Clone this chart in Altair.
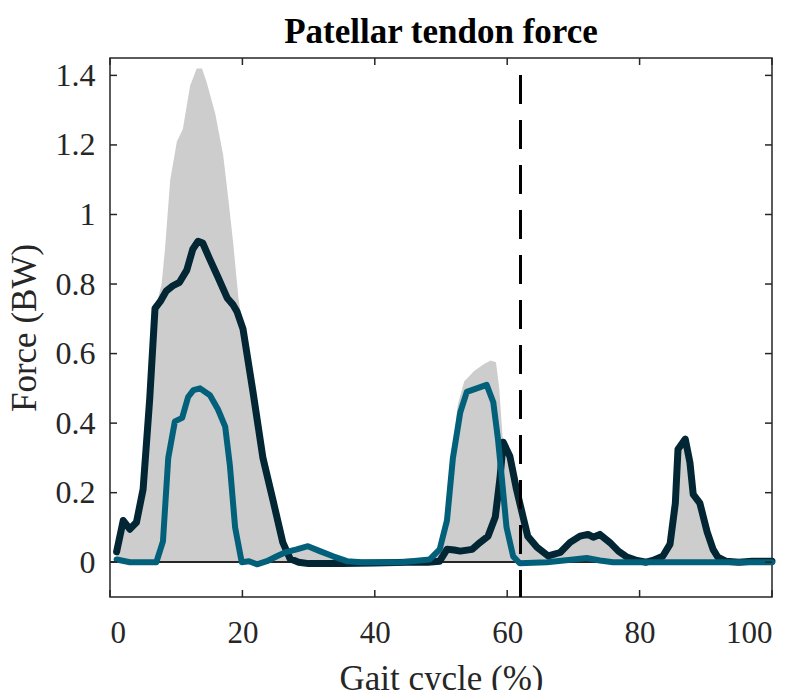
import altair as alt
import pandas as pd

# ---- data ----
grey_x = [1, 2, 3, 4, 5, 6, 7, 7.8, 8.3, 9.1, 10.1, 11, 12.1, 13.1, 13.9, 14.6, 15.9, 17.1, 17.9,
          18.6, 19.4, 20.1, 21.6, 23.1, 24.6, 26.1, 27.2, 28.2, 30, 32, 34, 36, 38, 48, 49, 50.3,
          51, 51.8, 52.5, 53.5, 55, 56.5, 57.5, 58.3, 58.8, 59.3, 60.4, 61.4, 62.4, 63.1, 64.5,
          66.2, 68, 70, 72, 73, 74, 75.5, 76.8, 78.1, 79.6, 83.5, 84.6, 85.4, 85.8, 86.9, 87.6,
          88.1, 89.1, 90.2, 91.1, 91.8, 93, 100]
grey_hi = [0.03, 0.12, 0.10, 0.12, 0.22, 0.47, 0.74, 0.80, 0.90, 1.10, 1.21, 1.245, 1.37, 1.42,
           1.42, 1.38, 1.29, 1.17, 1.04, 0.92, 0.76, 0.67, 0.49, 0.30, 0.18, 0.06, 0.03, 0.04,
           0.05, 0.035, 0.018, 0.005, 0.0, 0.0, 0.02, 0.07, 0.15, 0.32, 0.45, 0.52, 0.55, 0.57,
           0.58, 0.575, 0.50, 0.36, 0.31, 0.21, 0.13, 0.075, 0.043, 0.02, 0.03, 0.066, 0.08,
           0.075, 0.08, 0.057, 0.032, 0.015, 0.005, 0.017, 0.052, 0.17, 0.325, 0.355, 0.29, 0.2,
           0.17, 0.087, 0.037, 0.015, 0.0, 0.0]

dark_x = [1, 2, 3, 4, 5, 6, 6.8, 7.6, 8.5, 9.5, 10.5, 11.6, 12.5, 13.3, 14, 15.1, 16.3, 17.7,
          18.6, 19.2, 20.1, 21.6, 23.1, 24.6, 26.1, 27.2, 28.5, 30, 35, 40, 45, 48, 49.8, 50.9,
          52, 52.9, 54.7, 55.9, 57.1, 58.2, 58.9, 59.4, 60.4, 61.4, 62.4, 63.1, 64.5, 66.2, 68,
          69.5, 71, 72.2, 73, 74, 75.5, 76.8, 78.1, 79.6, 81, 82, 83.5, 84.6, 85.4, 85.8, 86.9,
          87.6, 88.1, 89.1, 90.2, 91.1, 91.8, 93, 95, 97, 100]
dark_y = [0.03, 0.12, 0.095, 0.115, 0.21, 0.47, 0.73, 0.75, 0.78, 0.795, 0.805, 0.84, 0.90,
          0.923, 0.918, 0.87, 0.82, 0.76, 0.74, 0.72, 0.67, 0.49, 0.30, 0.18, 0.057, 0.01, 0.0,
          -0.004, -0.004, -0.002, 0.0, 0.0, 0.003, 0.037, 0.035, 0.032, 0.037, 0.057, 0.075,
          0.13, 0.24, 0.345, 0.305, 0.21, 0.13, 0.075, 0.043, 0.018, 0.028, 0.057, 0.075, 0.08,
          0.072, 0.08, 0.057, 0.032, 0.015, 0.005, 0.0, 0.005, 0.017, 0.052, 0.17, 0.325, 0.354,
          0.287, 0.195, 0.17, 0.087, 0.037, 0.015, 0.003, 0.0, 0.003, 0.003]

teal_x = [1, 3, 5, 7, 8, 8.8, 9.8, 10.9, 11.8, 12.6, 13.6, 15.1, 16.3, 17.4, 18.1, 18.9, 19.9,
          21, 22.2, 23.7, 25.2, 26.7, 28.2, 29.9, 31.7, 33.7, 35.8, 38, 44, 48.3, 49.8, 50.9,
          51.8, 52.9, 53.9, 55.4, 56.9, 57.9, 58.6, 59.2, 59.9, 60.9, 61.9, 66, 70, 72, 74, 76,
          100]
teal_y = [0.008, 0.0, 0.0, 0.0, 0.06, 0.30, 0.405, 0.415, 0.475, 0.495, 0.50, 0.48, 0.44, 0.39,
          0.28, 0.10, 0.0, 0.003, -0.006, 0.003, 0.017, 0.03, 0.037, 0.046, 0.032, 0.017, 0.003,
          0.0, 0.0, 0.008, 0.037, 0.12, 0.30, 0.43, 0.49, 0.50, 0.51, 0.46, 0.355, 0.24, 0.10,
          0.017, -0.003, 0.0, 0.008, 0.012, 0.005, 0.0, 0.0]

x_ticks = [0, 20, 40, 60, 80, 100]
y_ticks = [0, 0.2, 0.4, 0.6, 0.8, 1, 1.2, 1.4]
stance_end = 62
x_domain = [0, 100]
y_domain = [-0.1, 1.45]
title_text = ["Patellar tendon force"]

# ---- styling ----
W, H = 662, 539
FONT = "Liberation Serif"
INK = "#262626"
GREY = "#cdcdcd"
DARK = "#022633"
TEAL = "#02607a"
TICK = 7

grey_df = pd.DataFrame({"x": grey_x, "hi": grey_hi})
dark_df = pd.DataFrame({"x": dark_x, "y": dark_y})
teal_df = pd.DataFrame({"x": teal_x, "y": teal_y})
xt_df = pd.DataFrame({"v": x_ticks})
yt_df = pd.DataFrame({"v": y_ticks})
title_df = pd.DataFrame({"t": title_text})

xs = alt.Scale(domain=x_domain, nice=False, zero=False)
ys = alt.Scale(domain=y_domain, nice=False, zero=False)

x_axis = alt.Axis(values=x_ticks, format="d", title="Gait cycle (%)", grid=False, ticks=False,
                  tickSize=0, domain=False, labelFont=FONT, labelFontSize=31, labelColor=INK,
                  labelPadding=21, titleFont=FONT, titleFontSize=35, titleFontWeight="normal",
                  titleColor=INK, titleBaseline="alphabetic", titleAlign="center",
                  titleX=W / 2, titleY=92)
y_axis = alt.Axis(values=y_ticks, format="~g", title="Force (BW)", grid=False, ticks=False,
                  tickSize=0, domain=False, labelFont=FONT, labelFontSize=32, labelColor=INK,
                  labelPadding=15, labelBaseline="middle", titleFont=FONT, titleFontSize=35,
                  titleFontWeight="normal", titleColor=INK, titleBaseline="alphabetic",
                  titleAlign="center", titleAngle=270, titleX=-75, titleY=H / 2)

band = alt.Chart(grey_df).mark_area(color=GREY, opacity=1).encode(
    x=alt.X("x:Q", scale=xs, axis=x_axis),
    y=alt.Y("hi:Q", scale=ys, axis=y_axis),
    y2=alt.datum(0),
)

zero = alt.Chart(grey_df).mark_rule(color=INK, strokeWidth=1.5).encode(y=alt.datum(0))

dark = alt.Chart(dark_df).mark_line(color=DARK, strokeWidth=7, strokeJoin="round",
                                    strokeCap="round").encode(x="x:Q", y="y:Q")
teal = alt.Chart(teal_df).mark_line(color=TEAL, strokeWidth=6, strokeJoin="round",
                                    strokeCap="round").encode(x="x:Q", y="y:Q")

dash = alt.Chart(grey_df).mark_rule(color="black", strokeWidth=2.8, strokeDash=[28, 17]).encode(
    x=alt.datum(stance_end), y=alt.datum(1.4), y2=alt.datum(-0.1))

tick_bottom = alt.Chart(xt_df).mark_rule(color=INK, strokeWidth=1.5).encode(
    x="v:Q", y=alt.value(H), y2=alt.value(H - TICK))
tick_top = alt.Chart(xt_df).mark_rule(color=INK, strokeWidth=1.5).encode(
    x="v:Q", y=alt.value(0), y2=alt.value(TICK))
tick_left = alt.Chart(yt_df).mark_rule(color=INK, strokeWidth=1.5).encode(
    y="v:Q", x=alt.value(0), x2=alt.value(TICK))
tick_right = alt.Chart(yt_df).mark_rule(color=INK, strokeWidth=1.5).encode(
    y="v:Q", x=alt.value(W), x2=alt.value(W - TICK))

title = alt.Chart(title_df).mark_text(font=FONT, fontSize=35, fontWeight="bold", color="black",
                                      align="center", baseline="alphabetic").encode(
    x=alt.value(W / 2), y=alt.value(-15), text="t:N")

chart = alt.layer(band, zero, dark, teal, dash, tick_bottom, tick_top, tick_left, tick_right,
                  title).properties(
    width=W, height=H,
    autosize=alt.AutoSizeParams(type="none"),
    padding={"left": 102, "top": 50, "right": 24, "bottom": 93},
    background="white",
).configure_view(stroke=INK, strokeWidth=1.5)

chart.save("out.html", embed_options={"renderer": "svg", "actions": False})
